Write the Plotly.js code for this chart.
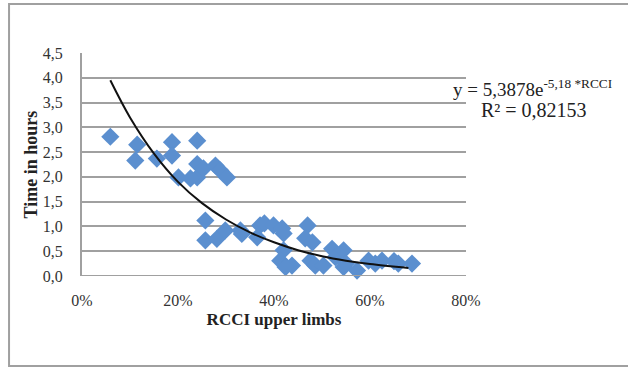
<!DOCTYPE html>
<html>
<head>
<meta charset="utf-8">
<script src="https://cdn.plot.ly/plotly-3.0.1.min.js"></script>
<style>html,body{margin:0;padding:0;background:#fff;}#chart{width:628px;height:368px;}</style>
</head>
<body>
<div id="chart"></div>
<script>
// RCCI upper limbs (fraction) and time in hours
var rcci = [0.059,0.115,0.111,0.156,0.1875,0.1875,0.201,0.240,0.240,0.240,0.226,0.253,0.278,0.288,0.302,
  0.257,0.257,0.281,0.2985,0.33,0.333,0.371,0.365,0.38,0.399,0.417,0.42,0.47,0.465,0.48,
  0.42,0.413,0.4375,0.424,0.476,0.486,0.503,0.521,0.528,0.545,0.545,0.55,0.573,0.597,0.611,0.625,0.65,0.659,0.6875];
var hours = [2.81,2.65,2.33,2.37,2.70,2.43,1.99,2.73,2.26,1.99,1.97,2.17,2.23,2.13,1.99,
  1.12,0.72,0.75,0.92,0.92,0.85,1.02,0.78,1.06,1.02,0.96,0.86,1.02,0.76,0.68,
  0.52,0.31,0.21,0.18,0.31,0.21,0.21,0.55,0.38,0.52,0.18,0.25,0.11,0.31,0.25,0.31,0.30,0.25,0.25];
// exponential trendline
var trendX = [0.059,0.10,0.15,0.20,0.25,0.30,0.35,0.40,0.45,0.50,0.55,0.60,0.68];
var trendY = [3.95,3.20,2.47,1.90,1.47,1.14,0.88,0.68,0.52,0.40,0.31,0.24,0.16];
var xTicks = [0,0.2,0.4,0.6,0.8];
var yTicks = [0,0.5,1,1.5,2,2.5,3,3.5,4,4.5];

var grid = '#a0a0a0';
var serif = 'Liberation Serif, Times New Roman, serif';

var traces = [
  {x: rcci, y: hours, type:'scatter', mode:'markers',
   marker:{symbol:'diamond', size:14, color:'#5b8fcf', line:{width:0}}, cliponaxis:false},
  {x: trendX, y: trendY, type:'scatter', mode:'lines',
   line:{color:'#111', width:2, shape:'spline'}}
];

var layout = {
  width:628, height:368,
  margin:{l:82, r:162, t:53, b:92},
  paper_bgcolor:'#fff', plot_bgcolor:'#fff',
  showlegend:false,
  separators:',.',
  font:{family:serif, size:16, color:'#222'},
  xaxis:{range:[0,0.8], tickvals:xTicks, tickformat:'.0%', showgrid:false, zeroline:false,
    showline:false, ticks:'', ticklabelstandoff:13, tickfont:{family:serif, size:16, color:'#333'},
    title:{text:'<b>RCCI upper limbs</b>', font:{family:serif, size:17, color:'#222'}, standoff:5}},
  yaxis:{range:[0,4.5], tickvals:yTicks, tickformat:'.1f', showgrid:true, gridcolor:grid, gridwidth:2,
    zeroline:false, showline:true, linecolor:grid, linewidth:2, ticks:'', ticklabelstandoff:14,
    tickfont:{family:serif, size:16, color:'#333'}},
  shapes:[
    {type:'line', xref:'paper', yref:'y', x0:0, x1:1, y0:0, y1:0, line:{color:grid, width:2}},
    {type:'rect', xref:'paper', yref:'paper', x0:-0.19, x1:1.7, y0:-0.4036, y1:1.2197,
     line:{color:'#a0a0a0', width:2}, fillcolor:'rgba(0,0,0,0)', layer:'below'}
  ],
  annotations:[
    {xref:'paper', yref:'paper', x:-0.133, y:0.5, xanchor:'center', yanchor:'middle', showarrow:false,
     textangle:-90, text:'<b>Time in hours</b>', font:{family:serif, size:18, color:'#222'}},
    {xref:'paper', yref:'paper', x:0.96, y:0.845, xanchor:'left', yanchor:'middle', showarrow:false,
     text:'y = 5,3878e<sup>-5,18 *RCCI</sup>', font:{family:serif, size:19, color:'#222'}},
    {xref:'paper', yref:'paper', x:1.033, y:0.745, xanchor:'left', yanchor:'middle', showarrow:false,
     text:'R² = 0,82153', font:{family:serif, size:20, color:'#222'}}
  ]
};
Plotly.newPlot('chart', traces, layout, {staticPlot:true, displayModeBar:false});
</script>
</body>
</html>
